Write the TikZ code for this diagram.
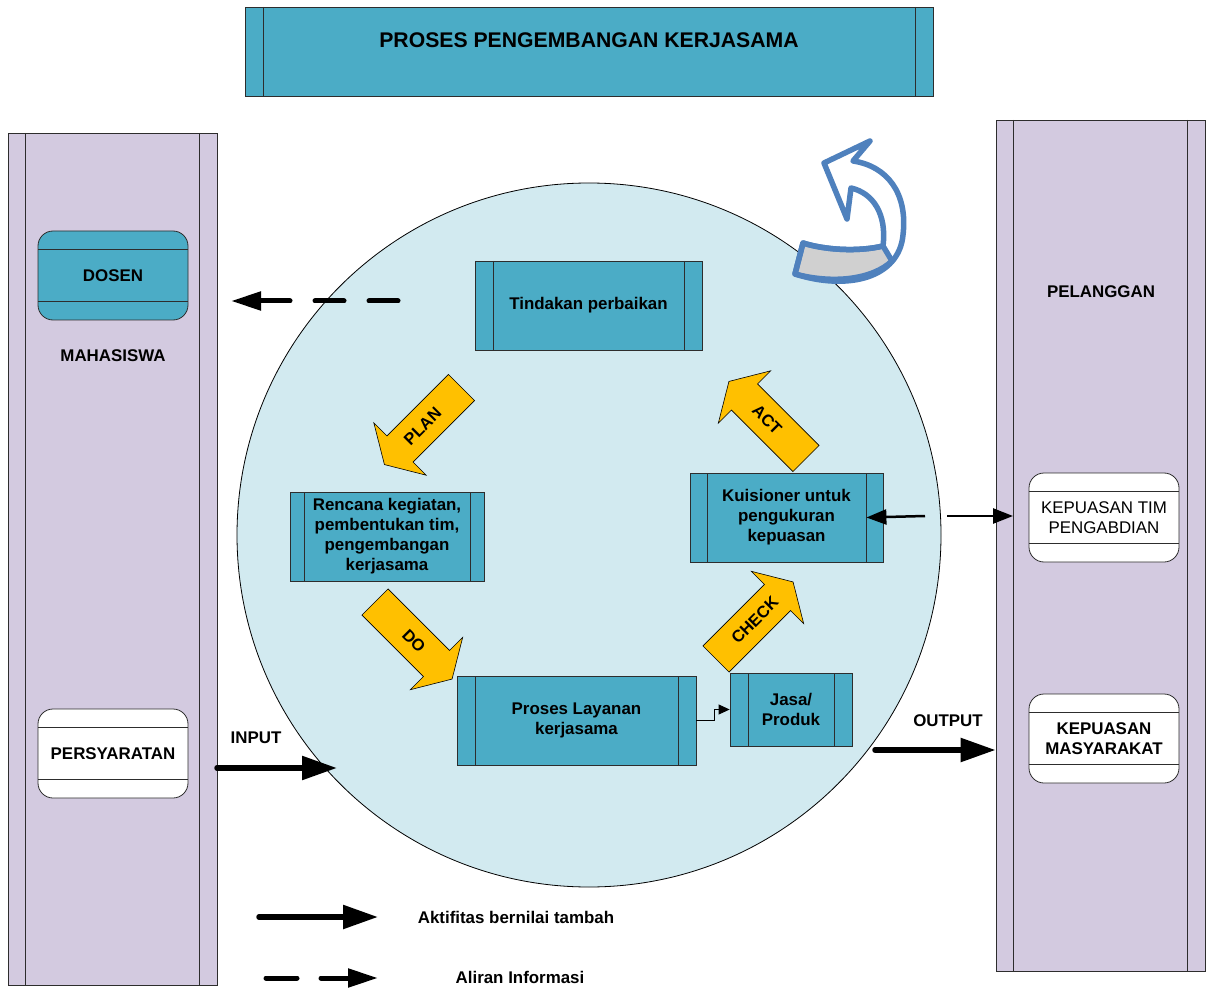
\documentclass[tikz,border=0pt]{standalone}
\usepackage{fontspec}
\setmainfont{Liberation Sans}
\usetikzlibrary{arrows.meta,calc}

\definecolor{boxteal}{RGB}{75,172,198}
\definecolor{lanelilac}{RGB}{211,202,224}
\definecolor{cyclebg}{RGB}{210,234,240}
\definecolor{stepgold}{RGB}{255,192,0}
\definecolor{loopblue}{RGB}{79,129,189}
\definecolor{loopgray}{RGB}{208,208,208}
\definecolor{edgegray}{RGB}{45,45,45}

\begin{document}
\begin{tikzpicture}[x=1pt,y=-1pt,
  every node/.style={font=\fontsize{16.9}{20}\selectfont\bfseries, align=center, inner sep=0pt},
  sidebars/.style={path picture={
    \draw[edgegray, line width=0.8pt] ([xshift=#1]path picture bounding box.north west) -- ([xshift=#1]path picture bounding box.south west);
    \draw[edgegray, line width=0.8pt] ([xshift=-#1]path picture bounding box.north east) -- ([xshift=-#1]path picture bounding box.south east);}},
  lane/.style={rectangle, draw=edgegray, fill=lanelilac, line width=0.8pt, sidebars=17.5pt},
  procbox/.style={rectangle, draw=edgegray, fill=boxteal, line width=0.8pt, sidebars=#1},
  procbox/.default=18pt,
  store/.style={rectangle, rounded corners=15pt, draw=edgegray, line width=0.8pt,
    minimum width=150pt, minimum height=89pt, path picture={
    \draw[edgegray, line width=0.8pt] ([yshift=-18.5pt]path picture bounding box.north west) -- ([yshift=-18.5pt]path picture bounding box.north east);
    \draw[edgegray, line width=0.8pt] ([yshift=18.5pt]path picture bounding box.south west) -- ([yshift=18.5pt]path picture bounding box.south east);}},
  valueflow/.style={line width=5.5pt, line cap=round, -{Triangle[length=35pt,width=23pt]}},
  infoflow/.style={line width=5pt, line cap=round, dash pattern=on 29pt off 25pt, -{Triangle[length=30pt,width=18pt]}},
  thinflow/.style={line width=2.5pt, -{Triangle[length=20pt,width=15pt]}},
  stepshape/.style={draw=black, line width=0.6pt, fill=stepgold},
  steplabel/.style={font=\fontsize{16.5}{18}\selectfont\bfseries}
]
\useasboundingbox (0,0) rectangle (1208,992);
\fill[white] (0,0) rectangle (1208,992);

% swimlanes
\node[lane, minimum width=209pt, minimum height=852pt] (mhs) at (112.5,559) {};
\node[lane, minimum width=209pt, minimum height=851pt] (plg) at (1100.5,545.5) {};

% title banner
\node[procbox, minimum width=688pt, minimum height=89pt] (title) at (589,51.5) {};
\node[font=\fontsize{21.2}{24}\selectfont\bfseries] (titletext) at (589,40) {PROSES PENGEMBANGAN KERJASAMA};

% PDCA circle
\node[circle, draw=black, line width=0.8pt, fill=cyclebg, minimum size=704pt] (cycle) at (589,535) {};

% lane labels
\node (mhslabel) at (113,356) {MAHASISWA};
\node (plglabel) at (1101,292) {PELANGGAN};

% stores inside the lanes
\node[store, fill=boxteal] (dosen) at (113,275.5) {DOSEN};
\node[store, fill=white] (syarat) at (113,753.5) {PERSYARATAN};
\node[store, fill=white, font=\fontsize{16.9}{20}\selectfont] (kpstim) at (1104,517.5) {KEPUASAN TIM\\PENGABDIAN};
\node[store, fill=white] (kpsmas) at (1104,738.5) {KEPUASAN\\MASYARAKAT};

% process steps
\node[procbox, minimum width=227pt, minimum height=89pt] (tindakan) at (588.5,305.5) {Tindakan perbaikan};
\node[procbox=14pt, minimum width=194pt, minimum height=89pt] (rencana) at (387,536.5) {Rencana kegiatan,\\pembentukan tim,\\pengembangan\\kerjasama};
\node[procbox=17pt, minimum width=193pt, minimum height=89pt] (kuis) at (786.5,517.5) {Kuisioner untuk\\pengukuran\\kepuasan};
\node[procbox, minimum width=239pt, minimum height=89pt] (proses) at (576.5,720.5) {Proses Layanan\\kerjasama};
\node[procbox, minimum width=122pt, minimum height=73pt] (jasa) at (791,709.5) {Jasa/\\Produk};

% PDCA block arrows
\begin{scope}[shift={(461.5,387.5)}, rotate=225]
  \draw[stepshape] (0,-18.5) -- (87,-18.5) -- (87,-37) -- (109,0) -- (87,37) -- (87,18.5) -- (0,18.5) -- cycle;
  \node[steplabel, rotate=45] (plan) at (55,0) {PLAN};
\end{scope}
\begin{scope}[shift={(375,602)}, rotate=-45]
  \draw[stepshape] (0,-18.5) -- (87,-18.5) -- (87,-37) -- (109,0) -- (87,37) -- (87,18.5) -- (0,18.5) -- cycle;
  \node[steplabel, rotate=-45] (do) at (55,0) {DO};
\end{scope}
\begin{scope}[shift={(716,659)}, rotate=45]
  \draw[stepshape] (0,-18.5) -- (87,-18.5) -- (87,-37) -- (109,0) -- (87,37) -- (87,18.5) -- (0,18.5) -- cycle;
  \node[steplabel, rotate=45] (check) at (55,0) {CHECK};
\end{scope}
\begin{scope}[shift={(806,458.5)}, rotate=135]
  \draw[stepshape] (0,-18.5) -- (87,-18.5) -- (87,-37) -- (109,0) -- (87,37) -- (87,18.5) -- (0,18.5) -- cycle;
  \node[steplabel, rotate=-45] (act) at (55,0) {ACT};
\end{scope}

% proses -> jasa
\draw[line width=0.8pt, -{Triangle[length=11pt,width=10pt]}] (proses.east) -- ++(18,0) |- (jasa.west);

% improvement loop arrow
\begin{scope}[line width=5.5pt, line join=round]
  \fill[white] (795,274) .. controls (848,291) and (899,278) .. (903,235)
     .. controls (908,193) and (887,166) .. (853,161) -- (870,141) -- (824,163) -- (847,219) -- (851,188)
     .. controls (873,193) and (887,214) .. (883,246)
     .. controls (858,252) and (825,250) .. (803,243) -- cycle;
  \filldraw[fill=loopgray, draw=loopblue] (795,274) .. controls (832,284) and (872,280) .. (892,261) -- (883,246)
     .. controls (858,252) and (825,250) .. (803,243) -- cycle;
  \draw[loopblue] (795,274) .. controls (848,291) and (899,278) .. (903,235)
     .. controls (908,193) and (887,166) .. (853,161) -- (870,141) -- (824,163) -- (847,219) -- (851,188)
     .. controls (873,193) and (887,214) .. (883,246)
     .. controls (858,252) and (825,250) .. (803,243) -- cycle;
\end{scope}

% information flows
\coordinate (fbstart) at (398,301);
\coordinate (fbend) at (231,301);
\draw[infoflow] (fbstart) -- (fbend);

\coordinate (qin) at (925,516);
\draw[thinflow] (qin) -- ([xshift=-17pt]kuis.east);
\coordinate (qout) at (947,516);
\coordinate (qtarget) at (1013,516);
\draw[thinflow] (qout) -- (qtarget);

% input / output
\coordinate (inS) at (217,768);
\coordinate (inE) at (337,768);
\draw[valueflow] (inS) -- (inE);
\node (inlabel) at (256,738) {INPUT};

\coordinate (outS) at (875,750);
\draw[valueflow] (outS) -- (plg.west |- outS);
\node (outlabel) at (948,721) {OUTPUT};

% legend
\coordinate (lgA1) at (259,917);
\coordinate (lgA2) at (378,917);
\draw[valueflow] (lgA1) -- (lgA2);
\node (lgAtext) at (516,917) {Aktifitas bernilai tambah};

\coordinate (lgB1) at (266,978);
\coordinate (lgB2) at (378,978);
\draw[infoflow, dash pattern=on 31pt off 24pt] (lgB1) -- (lgB2);
\node (lgBtext) at (520,977) {Aliran Informasi};
\end{tikzpicture}
\end{document}
